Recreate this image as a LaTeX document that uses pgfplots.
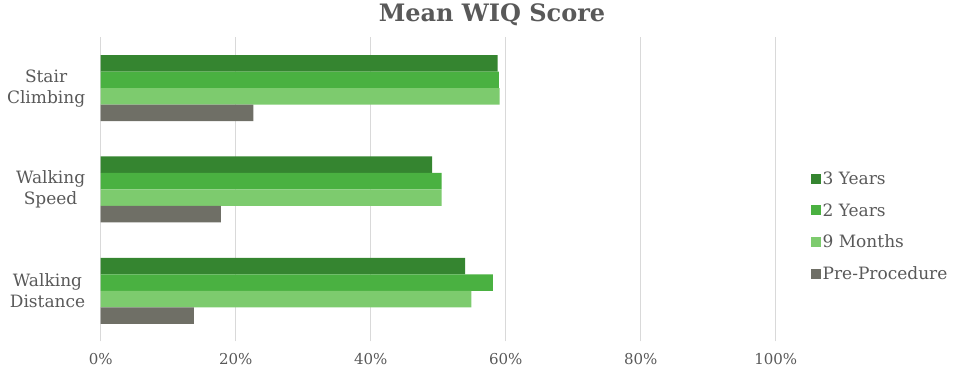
\documentclass[border=0pt]{standalone}
\usepackage{fontspec}
\setmainfont{DejaVu Serif}
\usepackage{pgfplots}
\pgfplotsset{compat=1.18}
\definecolor{txt}{HTML}{595959}
\definecolor{gridc}{HTML}{D9D9D9}
\definecolor{c3y}{HTML}{358530}
\definecolor{c2y}{HTML}{4AB141}
\definecolor{c9m}{HTML}{7DCB6E}
\definecolor{cpre}{HTML}{6F6F66}
\begin{document}
\begin{tikzpicture}
\path[use as bounding box] (-100.7pt,-40.5pt) rectangle (859.3pt,341.5pt);
\begin{axis}[
  at={(0pt,0pt)}, anchor=south west,
  scale only axis, width=675pt, height=304pt,
  xbar, bar width=16.5pt,
  xmin=0, xmax=100, ymin=-0.5, ymax=2.5,
  axis line style={draw=none},
  major tick length=0pt,
  xmajorgrids, grid style={gridc, line width=1.2pt},
  xtick={0,20,...,100},
  xticklabel={\pgfmathprintnumber{\tick}\%},
  /pgf/number format/assume math mode=true,
  xticklabel style={font=\fontsize{15}{18}\selectfont, text=txt, yshift=-8pt},
  ytick={0,1,2},
  yticklabels={Walking\\Distance, Walking\\Speed, Stair\\Climbing},
  yticklabel style={font=\fontsize{17}{21}\selectfont, text=txt, align=center, xshift=-12pt},
  legend style={at={(1.047,0.378)}, anchor=west, draw=none, fill=none,
    font=\fontsize{17}{20}\selectfont, text=txt, row sep=13.5pt,
    /tikz/every even column/.append style={column sep=2pt}},
  legend cell align=left,
  legend image code/.code={\fill[#1,draw=none] (0pt,-5pt) rectangle (10pt,5pt);},
]
\addplot[fill=c3y, draw=none, bar shift=24.75pt] coordinates {(54.0,0) (49.1,1) (58.8,2)};
\addplot[fill=c2y, draw=none, bar shift=8.25pt] coordinates {(58.1,0) (50.5,1) (59.0,2)};
\addplot[fill=c9m, draw=none, bar shift=-8.25pt] coordinates {(54.9,0) (50.5,1) (59.1,2)};
\addplot[fill=cpre, draw=none, bar shift=-24.75pt] coordinates {(13.8,0) (17.8,1) (22.6,2)};
\legend{3 Years, 2 Years, 9 Months, Pre-Procedure}
\end{axis}
\node[font=\bfseries\fontsize{24}{28}\selectfont, text=txt] at (391.3pt,327pt) {Mean WIQ Score};
\end{tikzpicture}
\end{document}
